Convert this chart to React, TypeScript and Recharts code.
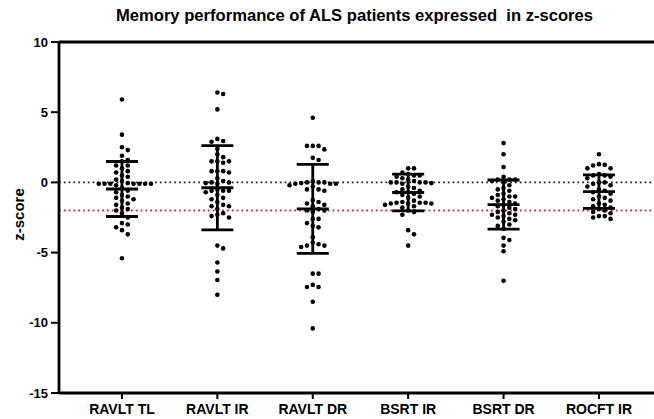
import { ScatterChart, Scatter, XAxis, YAxis, ReferenceLine, ErrorBar } from "recharts";

document.body.style.margin = "0";

const tests = ["RAVLT TL", "RAVLT IR", "RAVLT DR", "BSRT IR", "BSRT DR", "ROCFT IR"];

const ravltTl = [5.9, 3.4, 2.5, 2.3, 1.9, 1.6, 1.5, 1.2, 1.2, 1.0, 0.8, 0.7, 0.5, 0.4, 0.2, 0.1, -0.05, -0.1, -0.1, -0.1, -0.1, -0.1, -0.1, -0.1, -0.2, -0.4, -0.6, -0.7, -0.9, -1.0, -1.1, -1.2, -1.3, -1.5, -1.6, -1.8, -1.9, -2.0, -2.2, -2.5, -2.9, -3.0, -3.2, -3.4, -3.7, -5.4];
const ravltIr = [6.4, 6.3, 5.2, 3.1, 2.95, 2.9, 2.4, 2.0, 1.8, 1.5, 1.5, 1.5, 1.4, 0.8, 0.8, 0.8, 0.7, 0.3, 0.1, 0.0, 0.0, -0.05, -0.1, -0.5, -0.6, -0.6, -0.6, -0.7, -0.9, -1.1, -1.2, -1.4, -1.6, -1.7, -1.7, -1.9, -2.2, -2.3, -2.4, -2.5, -4.5, -4.7, -5.7, -6.35, -6.95, -8.0];
const ravltDr = [4.6, 2.6, 2.6, 2.6, 2.35, 1.75, 1.6, 0.1, 0.0, 0.0, 0.0, -0.05, -0.1, -0.1, -0.1, -0.2, -0.3, -0.5, -0.5, -0.6, -1.25, -1.4, -1.5, -1.6, -1.7, -1.9, -2.0, -2.0, -2.1, -2.6, -2.6, -2.9, -3.1, -3.2, -3.9, -4.3, -4.4, -4.5, -4.5, -4.6, -6.5, -6.5, -7.3, -7.45, -7.45, -8.5, -10.4];
const bsrtIr = [1.0, 1.0, 0.7, 0.6, 0.5, 0.5, 0.4, 0.3, 0.2, 0.1, 0.0, 0.0, 0.0, 0.0, -0.05, -0.1, -0.3, -0.4, -0.5, -0.6, -0.7, -0.7, -0.8, -0.9, -1.0, -1.1, -1.3, -1.4, -1.45, -1.45, -1.45, -1.5, -1.5, -1.5, -1.6, -1.7, -1.8, -2.0, -2.1, -2.3, -3.4, -3.7, -4.5];
const bsrtDr = [2.8, 2.0, 1.1, 0.4, 0.2, 0.2, 0.2, 0.1, 0.0, -0.2, -0.4, -0.5, -0.6, -0.8, -0.9, -1.0, -1.0, -1.1, -1.2, -1.3, -1.4, -1.5, -1.6, -1.7, -1.8, -1.9, -2.0, -2.1, -2.2, -2.3, -2.3, -2.4, -2.5, -2.6, -2.7, -2.8, -3.0, -3.1, -3.3, -3.95, -4.1, -4.5, -4.9, -7.0];
const rocftIr = [2.0, 1.3, 1.25, 1.2, 1.0, 1.0, 0.6, 0.5, 0.5, 0.4, 0.3, 0.0, 0.0, -0.1, -0.2, -0.3, -0.5, -0.6, -0.7, -0.8, -1.0, -1.1, -1.2, -1.3, -1.5, -1.6, -1.7, -1.8, -1.9, -2.0, -2.1, -2.2, -2.4, -2.4, -2.5, -2.6];

const means = [-0.47, -0.38, -1.88, -0.72, -1.58, -0.66];
const sds = [1.96, 3.0, 3.17, 1.31, 1.75, 1.19];

const yTicks = [-15, -10, -5, 0, 5, 10];

const columns = [ravltTl, ravltIr, ravltDr, bsrtIr, bsrtDr, rocftIr];

// layout of the swarm: pixels per z unit and per category
const PX_Y = 351 / 25;
const PX_X = 95.4;
const STEP = 5.8;

function swarm(values: number[], col: number) {
  const placed: { x: number; y: number }[] = [];
  const out: { x: number; y: number }[] = [];
  const sorted = [...values].sort((a, b) => b - a);
  for (const v of sorted) {
    const py = v * PX_Y;
    let off = 0;
    for (let k = 0; k < 40; k++) {
      off = k === 0 ? 0 : (k % 2 ? 1 : -1) * Math.ceil(k / 2) * STEP;
      if (placed.every((p) => Math.hypot(p.x - off, p.y - py) >= STEP - 0.4)) break;
    }
    placed.push({ x: off, y: py });
    out.push({ x: col + off / PX_X, y: v });
  }
  return out;
}

const points = columns.map((vals, i) => swarm(vals, i));
const summary = means.map((m, i) => ({ x: i, y: m, sd: sds[i] }));

const font = "'Liberation Sans', Arial, sans-serif";

const Dot = (p: any) => <circle cx={p.cx} cy={p.cy} r={2.3} fill="#000" />;
const MeanBar = (p: any) => (
  <line x1={p.cx - 16} x2={p.cx + 16} y1={p.cy} y2={p.cy} stroke="#000" strokeWidth={2.8} />
);

export default function App() {
  return (
    <div style={{ position: "relative", width: 654, height: 419, fontFamily: font, background: "#fff" }}>
      <div
        style={{
          position: "absolute",
          top: 6,
          left: 57,
          width: 595,
          textAlign: "center",
          fontWeight: "bold",
          fontSize: 16.6,
          whiteSpace: "pre",
          color: "#000",
        }}
      >
        {"Memory performance of ALS patients expressed  in z-scores"}
      </div>
      <ScatterChart width={654} height={419} margin={{ top: 42, right: 0, bottom: 0, left: 0 }}>
        <XAxis
          type="number"
          dataKey="x"
          domain={[-0.66, 5.577]}
          ticks={[0, 1, 2, 3, 4, 5]}
          interval={0}
          allowDataOverflow
          tickFormatter={(v: number) => tests[v]}
          height={26}
          tickSize={6}
          tickMargin={5}
          axisLine={{ stroke: "#000", strokeWidth: 2.8 }}
          tickLine={{ stroke: "#000", strokeWidth: 2 }}
          tick={{ fill: "#000", fontSize: 14, fontWeight: "bold", fontFamily: font }}
        />
        <YAxis
          type="number"
          dataKey="y"
          domain={[-15, 10]}
          ticks={yTicks}
          interval={0}
          allowDataOverflow
          width={59}
          tickSize={8}
          tickMargin={3}
          axisLine={{ stroke: "#000", strokeWidth: 2.8 }}
          tickLine={{ stroke: "#000", strokeWidth: 2 }}
          tick={{ fill: "#000", fontSize: 13, fontWeight: "bold", fontFamily: font }}
          label={(props: any) => {
            const vb = props.viewBox;
            const cx = vb.x + 18;
            const cy = vb.y + vb.height / 2 - 3;
            return (
              <text
                x={cx}
                y={cy}
                transform={`rotate(-90, ${cx}, ${cy})`}
                textAnchor="middle"
                dominantBaseline="central"
                fill="#000"
                fontSize={15}
                fontWeight="bold"
                fontFamily={font}
              >
                z-score
              </text>
            );
          }}
        />
        <ReferenceLine y={10} stroke="#000" strokeWidth={2.8} />
        <ReferenceLine y={0} stroke="#222" strokeWidth={1.8} strokeDasharray="1.8 3" />
        <ReferenceLine y={-2} stroke="#c63a3a" strokeWidth={1.8} strokeDasharray="1.8 3" />
        {points.map((pts, i) => (
          <Scatter key={tests[i]} data={pts} shape={Dot} isAnimationActive={false} />
        ))}
        <Scatter data={summary} shape={MeanBar} isAnimationActive={false}>
          <ErrorBar dataKey="sd" direction="y" width={16} stroke="#000" strokeWidth={2.8} isAnimationActive={false} />
        </Scatter>
      </ScatterChart>
    </div>
  );
}
